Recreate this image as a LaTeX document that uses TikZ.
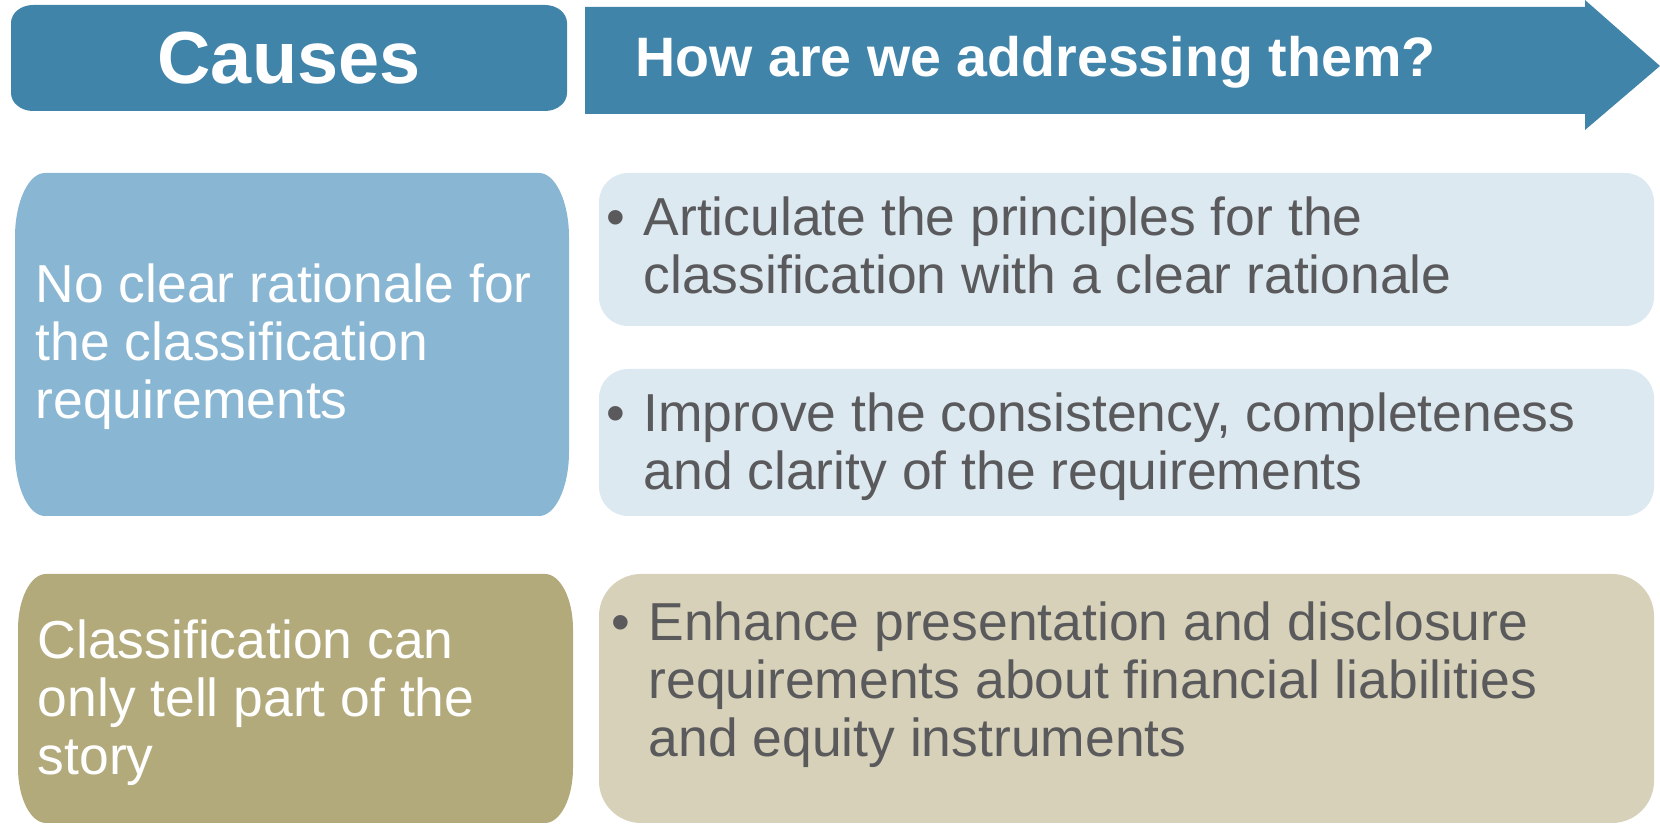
\documentclass[tikz,border=0pt]{standalone}
\usepackage{fontspec}
\setmainfont{Liberation Sans}

\definecolor{hdrblue}{HTML}{4184AA}
\definecolor{causeblue}{HTML}{89B6D2}
\definecolor{fixblue}{HTML}{DCE9F1}
\definecolor{causeolive}{HTML}{B3AA7C}
\definecolor{fixolive}{HTML}{D6D1B8}
\definecolor{greytext}{HTML}{5A5A5C}

% rounded panel: x1 y1 x2 y2 rx ry colour
\newcommand{\panel}[7]{%
  \fill[#7] (#1+#5,#2) -- (#3-#5,#2)
    .. controls (#3-0.45*#5,#2) and (#3,#2+0.45*#6) .. (#3,#2+#6)
    -- (#3,#4-#6)
    .. controls (#3,#4-0.45*#6) and (#3-0.45*#5,#4) .. (#3-#5,#4)
    -- (#1+#5,#4)
    .. controls (#1+0.45*#5,#4) and (#1,#4-0.45*#6) .. (#1,#4-#6)
    -- (#1,#2+#6)
    .. controls (#1,#2+0.45*#6) and (#1+0.45*#5,#2) .. (#1+#5,#2) -- cycle;}
\newcommand{\bul}{\makebox[10.5pt][l]{\textbullet}}
\newcommand{\ind}{\hspace*{10.5pt}}

\tikzset{
  headtext/.style={inner sep=0pt, text=white, font=\bfseries},
  causetext/.style={anchor=west, align=left, inner sep=0pt, text=white,
    font=\fontsize{15.2}{16.5}\selectfont},
  fixtext/.style={causetext, text=greytext}
}

\begin{document}
\begin{tikzpicture}[x=0.01cm, y=-0.01cm]
	\useasboundingbox (0,0) rectangle (1660,825);
	
	% headings
	\panel{11}{5}{567}{111}{22}{18}{hdrblue}
	\fill[hdrblue] (585,7) -- (1585,7) -- (1585,0) -- (1660,66) -- (1585,130) -- (1585,114) -- (585,114) -- cycle;
	\node[headtext, font=\fontsize{21}{25}\selectfont\bfseries] (causes) at (289,58) {Causes};
	\node[headtext, anchor=west, font=\fontsize{15.8}{19}\selectfont\bfseries] (how) at (635,62) {How are we addressing them?};
	
	% panels
	\panel{15}{173}{569}{516}{30}{64}{causeblue}
	\panel{599}{173}{1654}{326}{29}{29}{fixblue}
	\panel{599}{369}{1654}{516}{29}{29}{fixblue}
	\panel{18}{574}{573}{823}{28}{55}{causeolive}
	\panel{599}{574}{1654}{823}{42}{42}{fixolive}
	
	% texts
	\node[causetext] (cause1) at (35,347) {No clear rationale for\\the classification\\requirements};
	\node[fixtext] (fix1) at (606,245) {\bul Articulate the principles for the\\\ind classification with a clear rationale};
	\node[fixtext] (fix2) at (606,447) {\bul Improve the consistency, completeness\\\ind and clarity of the requirements};
	\node[causetext] (cause2) at (37,703) {Classification can\\only tell part of the\\story};
	\node[fixtext] (fix3) at (611,685) {\bul Enhance presentation and disclosure\\\ind requirements about financial liabilities\\\ind and equity instruments};
	
\end{tikzpicture}
\end{document}
